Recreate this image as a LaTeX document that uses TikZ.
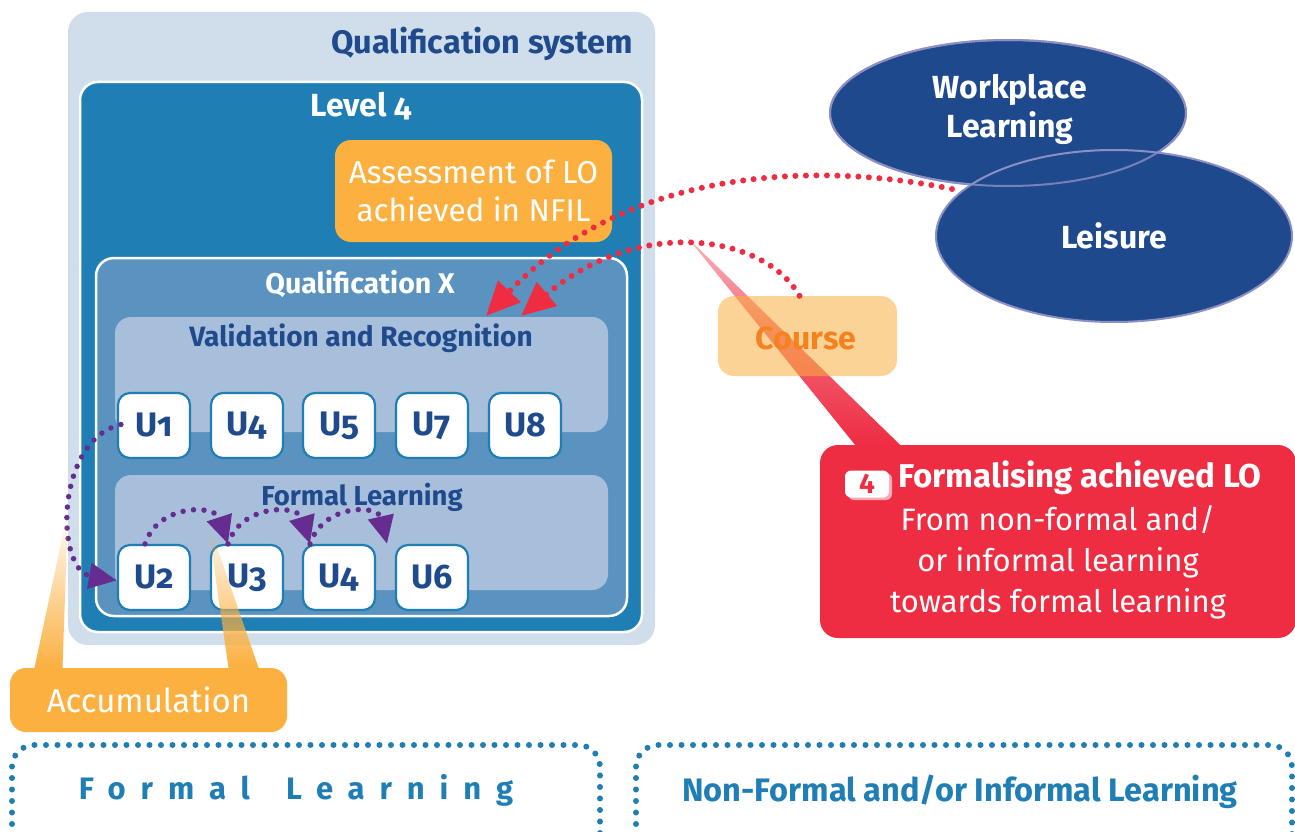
\documentclass[tikz,border=0pt]{standalone}
\usepackage{fontspec}
\setmainfont{Fira Sans}
\newfontfamily\osf{Fira Sans}[Numbers=OldStyle]
\usetikzlibrary{arrows.meta,fadings,shapes.geometric}
\definecolor{qsys}{HTML}{D0DEEB}
\definecolor{lvlblue}{HTML}{1F7EB4}
\definecolor{qxblue}{HTML}{5B93C0}
\definecolor{vrbox}{HTML}{A8BFDC}
\definecolor{dkblue}{HTML}{1F4A8C}
\definecolor{orng}{HTML}{FBB040}
\definecolor{ored}{HTML}{EE2D43}
\definecolor{purp}{HTML}{662D91}
\definecolor{ellb}{HTML}{1E4A8D}
\definecolor{ellborder}{HTML}{8C8FC4}
\definecolor{crsorange}{HTML}{F58220}
\newcommand{\fs}[1]{\fontsize{#1pt}{#1pt}\selectfont}
\tikzset{
  box/.style={rectangle, rounded corners=#1, inner sep=0pt},
  ubox/.style={rectangle, rounded corners=12pt, fill=white, draw=lvlblue, line width=2.2pt,
    minimum width=72pt, minimum height=65pt, text=dkblue, font=\osf\bfseries\fs{34}},
  reddots/.style={ored, line width=6pt, line cap=round, dash pattern=on 0pt off 10.5pt,
    -{Triangle[length=34pt,width=30pt,fill=ored]}},
  purpdots/.style={purp, line width=5.5pt, line cap=round, dash pattern=on 0pt off 10.5pt,
    -{Triangle[length=28pt,width=25pt,fill=purp]}},
  bluedots/.style={draw=lvlblue, line width=6pt, line cap=round, dash pattern=on 0pt off 11.5pt},
  wtxt/.style={text=white, inner sep=0pt},
}
\begin{document}
\begin{tikzpicture}[x=1pt,y=-1pt]
\useasboundingbox (0,0) rectangle (1295,832);
\clip (0,0) rectangle (1295,832);
\fill[white] (0,0) rectangle (1295,832);

% containers
\node[box=20pt, fill=qsys, minimum width=587pt, minimum height=633pt] (qs) at (361.5,328.5) {};
\node[wtxt, text=dkblue, font=\bfseries\fs{32.5}, anchor=east] (qst) at (633,44) {Qualification system};
\node[box=18pt, fill=lvlblue, draw=white, line width=2.5pt, minimum width=562pt, minimum height=550pt] (lvl) at (361,357) {};
\node[wtxt, font=\osf\bfseries\fs{32}] (lvlt) at (361,106) {Level 4};
\node[box=16pt, fill=orng, minimum width=277pt, minimum height=102pt, text=white, align=center,
  font=\fs{31.5}] (assess) at (473.5,191) {Assessment of LO\\[6pt]achieved in NFIL};
\node[box=18pt, fill=qxblue, draw=white, line width=2.5pt, minimum width=531pt, minimum height=358pt] (qx) at (361.5,437) {};
\node[wtxt, font=\bfseries\fs{28.5}] (qxt) at (360,284) {Qualification X};
\node[box=16pt, fill=vrbox, minimum width=493pt, minimum height=115pt] (vr) at (361.5,374.5) {};
\node[wtxt, text=dkblue, font=\bfseries\fs{28}] (vrt) at (361,338) {Validation and Recognition};
\node[box=16pt, fill=vrbox, minimum width=493pt, minimum height=115pt] (fl) at (361.5,532.5) {};
\node[wtxt, text=dkblue, font=\bfseries\fs{27.5}] (flt) at (362,497) {Formal Learning};

% units
\node[ubox] (a1) at (154,425.5) {U1};
\node[ubox] (a4) at (247,425.5) {U4};
\node[ubox] (a5) at (339,425.5) {U5};
\node[ubox] (a7) at (432,425.5) {U7};
\node[ubox] (a8) at (525,425.5) {U8};
\node[ubox] (b2) at (154,577.5) {U2};
\node[ubox] (b3) at (247,577.5) {U3};
\node[ubox] (b4) at (339,577.5) {U4};
\node[ubox] (b6) at (432,577.5) {U6};

% purple arrows
\draw[purpdots] ([xshift=4pt,yshift=1pt]a1.west) .. controls (55,440) and (55,570) .. ([yshift=-3pt]b2.west);
\draw[purpdots] ([xshift=-9pt]b2.north) .. controls (158,504) and (215,504) .. ([xshift=-19pt]b3.north);
\draw[purpdots] ([xshift=-19pt]b3.north) .. controls (241,504) and (298,504) .. ([xshift=-29pt]b4.north);
\draw[purpdots] ([xshift=-29pt]b4.north) .. controls (323,504) and (378,504) .. ([xshift=-45pt]b6.north);

% accumulation
\node[box=16pt, fill=orng, minimum width=277pt, minimum height=64pt, text=white, font=\fs{33}] (acc) at (148.5,700) {Accumulation};
\fill[orng, path fading=north] (68,510) -- ([xshift=-86pt]acc.north) -- ([xshift=-114pt]acc.north) -- cycle;
\fill[orng, path fading=north] (207,518) -- ([xshift=110pt]acc.north) -- ([xshift=80pt]acc.north) -- cycle;

% ellipses
\node[ellipse, fill=ellb, draw=ellborder, line width=2pt, minimum width=356pt, minimum height=146pt,
  inner sep=0pt] (wl) at (1008,113) {};
\node[wtxt, align=center, font=\bfseries\fs{32}] (wlt) at (1010,109) {Workplace\\[5pt]Learning};
\node[ellipse, fill=ellb, draw=ellborder, line width=2pt, minimum width=356pt, minimum height=172pt,
  text=white, font=\bfseries\fs{32}, inner sep=0pt] (lei) at (1114,236) {Leisure};
\draw[ellborder, line width=2pt, opacity=0.8] (wl.center) ellipse [x radius=178pt, y radius=73pt];

% red callout
\coordinate (tip) at (687,237);
\node[box=18pt, fill=ored, minimum width=476pt, minimum height=193pt] (fm) at (1058,541.5) {};
\shade[top color=ored!35!white, bottom color=ored, middle color=ored!75!white] (tip) -- ([xshift=-158pt]fm.north) -- ([xshift=-203pt]fm.north) -- cycle;
\node[box=16pt, fill=orng, fill opacity=0.55, minimum width=179pt, minimum height=80pt] (course) at (807.5,336) {};
\node[wtxt, text=crsorange, font=\bfseries\fs{32}] (coursetxt) at (806,338) {Course};

\fill[ored!40!white, rounded corners=6pt] (848,473) rectangle (892,500);
\node[box=6pt, fill=white, minimum width=44pt, minimum height=27pt, text=ored, font=\bfseries\fs{28}] (badge) at (867,484) {4};
\node[wtxt, font=\bfseries\fs{33}, anchor=west] (fmt) at (898,478) {Formalising achieved LO};
\node[wtxt, align=center, font=\fs{31}] (fmb) at (1058,562) {From non-formal and/\\[10pt]or informal learning\\[10pt]towards formal learning};

% red dotted arrows
\coordinate (r1) at (952,189);
\coordinate (r1e) at (486,316);
\coordinate (r2e) at (521,316);
\draw[reddots] (r1) .. controls (800,158) and (620,175) .. (r1e);
\draw[reddots] ([xshift=-8pt]course.north) .. controls (765,235) and (640,215) .. (r2e);

% bottom boxes
\draw[bluedots, rounded corners=22pt] (12,870) -- (12,745) -- (600,745) -- (600,870);
\draw[bluedots, rounded corners=22pt] (636,870) -- (636,745) -- (1292,745) -- (1292,870);
\node[wtxt, text=lvlblue, font=\bfseries\fs{31}\addfontfeature{LetterSpace=48}] (flb) at (296,790) {Formal\hspace{14pt} Learning};
\node[wtxt, text=lvlblue, font=\bfseries\fs{32.5}] (nfb) at (960,792) {Non-Formal and/or Informal Learning};
\end{tikzpicture}
\end{document}
